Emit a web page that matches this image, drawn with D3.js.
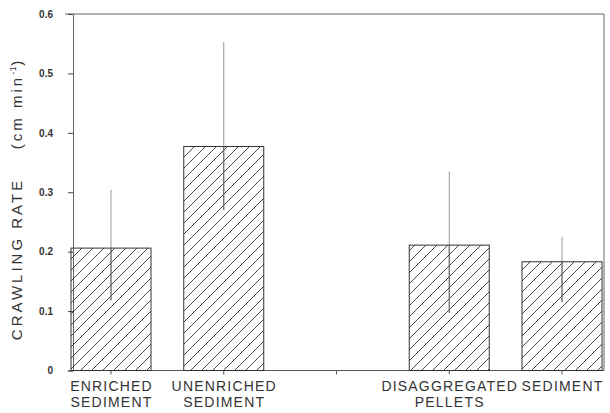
<!DOCTYPE html>
<html><head><meta charset="utf-8">
<script src="https://cdn.jsdelivr.net/npm/d3@7"></script>
<style>body{margin:0;background:#fff}svg{display:block}</style>
</head><body>
<script>
const categories = ["ENRICHED SEDIMENT", "UNENRICHED SEDIMENT", "", "DISAGGREGATED PELLETS", "SEDIMENT"];
const labelLines = [["ENRICHED","SEDIMENT"],["UNENRICHED","SEDIMENT"],[],["DISAGGREGATED","PELLETS"],["SEDIMENT"]];
const means = [0.206, 0.377, null, 0.211, 0.183];
const upper = [0.304, 0.553, null, 0.335, 0.225];
const lower = [0.118, 0.27, null, 0.097, 0.115];
const yTicks = [0, 0.1, 0.2, 0.3, 0.4, 0.5, 0.6];
const yTickLabels = ["0", "0.1", "0.2", "0.3", "0.4", "0.5", "0.6"];

const W = 610, H = 413;
const svg = d3.select("body").append("svg").attr("width", W).attr("height", H);
const y = d3.scaleLinear().domain([0, 0.6]).range([370.5, 14]);
const x = d3.scalePoint().domain(categories.map((c,i)=>i)).range([111, 562]);
const bw = 80;

const defs = svg.append("defs");
const pat = defs.append("pattern").attr("id","hatch").attr("patternUnits","userSpaceOnUse")
  .attr("width",11).attr("height",11);
pat.append("path").attr("d","M-1,12 L12,-1 M-2,2 L2,-2 M9,13 L13,9")
  .attr("stroke","#333").attr("stroke-width",0.9).attr("fill","none");

// frame
svg.append("path").attr("d",`M65,${y(0.6)} H604 V${y(0)}`).attr("fill","none").attr("stroke","#666").attr("stroke-width",1);
svg.append("line").attr("x1",73).attr("x2",604).attr("y1",y(0)).attr("y2",y(0)).attr("stroke","#555").attr("stroke-width",1);

// y axis
const yAxis = d3.axisLeft(y).tickValues(yTicks).tickFormat((d,i)=>yTickLabels[i]).tickSize(5).tickPadding(15);
const ga = svg.append("g").attr("transform","translate(73,0)").call(yAxis);
ga.select(".domain").attr("stroke","#666");
ga.selectAll(".tick line").attr("stroke","#444");
ga.selectAll(".tick text").attr("font-family","Liberation Sans, Arial, sans-serif").attr("font-size",10).attr("font-weight","bold").attr("fill","#333");

// x ticks
svg.selectAll(".xt").data(categories.map((c,i)=>i)).enter().append("line")
  .attr("x1",d=>x(d)).attr("x2",d=>x(d)).attr("y1",y(0)).attr("y2",y(0)+4).attr("stroke","#555");

const idx = means.map((m,i)=>i).filter(i=>means[i]!==null);

// error bars
svg.selectAll(".err").data(idx).enter().append("line")
  .attr("x1",i=>x(i)).attr("x2",i=>x(i)).attr("y1",i=>y(upper[i])).attr("y2",i=>y(lower[i]))
  .attr("stroke","#999").attr("stroke-width",1);

// bars
svg.selectAll(".bar").data(idx).enter().append("rect")
  .attr("x",i=>x(i)-bw/2).attr("width",bw).attr("y",i=>y(means[i])).attr("height",i=>y(0)-y(means[i]))
  .attr("fill","url(#hatch)").attr("stroke","#333").attr("stroke-width",1);
svg.selectAll(".err2").data(idx).enter().append("line")
  .attr("x1",i=>x(i)).attr("x2",i=>x(i)).attr("y1",i=>y(means[i])).attr("y2",i=>y(lower[i]))
  .attr("stroke","#666").attr("stroke-width",1);

// category labels
const gl = svg.append("g").attr("font-family","Liberation Sans, Arial, sans-serif").attr("font-size",14).attr("fill","#333").attr("text-anchor","middle");
categories.forEach((c,i)=>{
  labelLines[i].forEach((t,j)=>{
    gl.append("text").attr("x",x(i)+0.5).attr("y",391+j*16).attr("letter-spacing","1.2").text(t);
  });
});

// y label
const yl = svg.append("text").attr("transform","translate(22,199) rotate(-90)")
  .attr("text-anchor","middle").attr("font-family","Liberation Sans, Arial, sans-serif").attr("font-size",15)
  .attr("fill","#333").attr("letter-spacing","3").style("white-space","pre");
yl.append("tspan").text("CRAWLING RATE    (cm min");
yl.append("tspan").attr("font-size",9).attr("dy",-6).attr("letter-spacing","0.5").text("-1");
yl.append("tspan").attr("dy",6).text(")");
</script>
</body></html>
